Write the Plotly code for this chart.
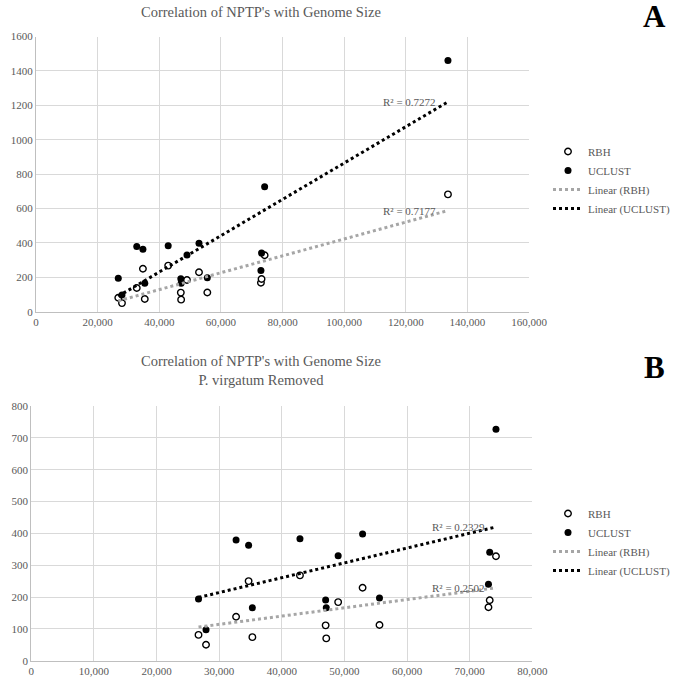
import numpy as np
import plotly.graph_objects as go

# ---- data ----
genome_size_b = [26700, 27900, 32700, 34700, 35300, 42900, 47000, 47100, 49000, 52900, 55600, 73000, 73200, 74200]
rbh_b         = [81,    50,    138,   250,   74,    268,   111,   70,    184,   229,   112,   168,   190,   328]
uclust_b      = [194,   97,    379,   363,   166,   383,   191,   166,   330,   398,   197,   240,   341,   727]

# P. virgatum (only in panel A)
pvirg_size = [133700]
pvirg_rbh = [682]
pvirg_uclust = [1460]

genome_size_a = genome_size_b + pvirg_size
rbh_a = rbh_b + pvirg_rbh
uclust_a = uclust_b + pvirg_uclust

r2_labels_a = ["R² = 0.7177", "R² = 0.7272"]
r2_labels_b = ["R² = 0.2502", "R² = 0.2329"]

FONT = "Liberation Serif"
GREY = "#595959"
GRID = "#d9d9d9"

W, H = 685, 682


def fit(x, y):
    x = np.asarray(x, float)
    y = np.asarray(y, float)
    m, b = np.polyfit(x, y, 1)
    xs = np.array([x.min(), x.max()])
    return xs, m * xs + b


fig = go.Figure()


def add_panel(xs, rbh, ucl, xa, ya, legend):
    fig.add_trace(go.Scatter(x=xs, y=rbh, mode="markers", name="RBH",
                             marker=dict(symbol="circle", size=6.5, color="white",
                                         line=dict(color="black", width=1.4)),
                             xaxis=xa, yaxis=ya, legend=legend))
    fig.add_trace(go.Scatter(x=xs, y=ucl, mode="markers", name="UCLUST",
                             marker=dict(symbol="circle", size=7, color="black"),
                             xaxis=xa, yaxis=ya, legend=legend))
    tx, ty = fit(xs, rbh)
    fig.add_trace(go.Scatter(x=tx, y=ty, mode="lines", name="Linear (RBH)",
                             line=dict(color="#a6a6a6", width=3, dash="dot"),
                             xaxis=xa, yaxis=ya, legend=legend))
    tx, ty = fit(xs, ucl)
    fig.add_trace(go.Scatter(x=tx, y=ty, mode="lines", name="Linear (UCLUST)",
                             line=dict(color="black", width=3, dash="dot"),
                             xaxis=xa, yaxis=ya, legend=legend))


add_panel(genome_size_a, rbh_a, uclust_a, "x", "y", "legend")
add_panel(genome_size_b, rbh_b, uclust_b, "x2", "y2", "legend2")

axis_common = dict(showgrid=True, gridcolor=GRID, gridwidth=1, zeroline=False,
                   showline=True, linecolor="#bfbfbf", linewidth=1,
                   ticks="", tickfont=dict(family=FONT, size=11, color=GREY),
                   automargin=False)

fig.update_layout(
    width=W, height=H,
    margin=dict(l=0, r=0, t=0, b=0),
    paper_bgcolor="white", plot_bgcolor="white",
    font=dict(family=FONT, color=GREY),
    xaxis=dict(domain=[36 / W, 529 / W], range=[0, 160000], dtick=20000,
               tickformat=",d", anchor="y", **axis_common),
    yaxis=dict(domain=[1 - 311.7 / H, 1 - 36.5 / H], range=[0, 1600], dtick=200,
               anchor="x", **axis_common),
    xaxis2=dict(domain=[31.3 / W, 532.3 / W], range=[0, 80000], dtick=10000,
                tickformat=",d", anchor="y2", **axis_common),
    yaxis2=dict(domain=[1 - 660.7 / H, 1 - 406 / H], range=[0, 800], dtick=100,
                anchor="x2", **axis_common),
    legend=dict(x=548 / W, y=1 - 137 / H, xanchor="left", yanchor="top",
                font=dict(family=FONT, size=11, color=GREY),
                bgcolor="rgba(0,0,0,0)", tracegroupgap=0),
    legend2=dict(x=548 / W, y=1 - 499 / H, xanchor="left", yanchor="top",
                 font=dict(family=FONT, size=11, color=GREY),
                 bgcolor="rgba(0,0,0,0)", tracegroupgap=0),
    showlegend=True,
)

annotations = [
    dict(text="Correlation of NPTP's with Genome Size", x=261 / W, y=1 - 12 / H,
         xref="paper", yref="paper", showarrow=False, xanchor="center", yanchor="middle",
         font=dict(family=FONT, size=14.5, color=GREY)),
    dict(text="Correlation of NPTP's with Genome Size<br>P. virgatum Removed", x=261 / W,
         y=1 - 370.5 / H, xref="paper", yref="paper", showarrow=False, xanchor="center",
         yanchor="middle", font=dict(family=FONT, size=14.5, color=GREY)),
    dict(text="<b>A</b>", x=654 / W, y=1 - 17 / H, xref="paper", yref="paper",
         showarrow=False, xanchor="center", yanchor="middle",
         font=dict(family=FONT, size=31, color="black")),
    dict(text="<b>B</b>", x=654 / W, y=1 - 367 / H, xref="paper", yref="paper",
         showarrow=False, xanchor="center", yanchor="middle",
         font=dict(family=FONT, size=31, color="black")),
    dict(text=r2_labels_a[1], x=130500, y=1219, xref="x", yref="y", showarrow=False,
         xanchor="right", yanchor="middle", font=dict(family=FONT, size=11, color=GREY)),
    dict(text=r2_labels_a[0], x=130500, y=584, xref="x", yref="y", showarrow=False,
         xanchor="right", yanchor="middle", font=dict(family=FONT, size=11, color=GREY)),
    dict(text=r2_labels_b[1], x=72700, y=420, xref="x2", yref="y2", showarrow=False,
         xanchor="right", yanchor="middle", font=dict(family=FONT, size=11, color=GREY)),
    dict(text=r2_labels_b[0], x=72700, y=229, xref="x2", yref="y2", showarrow=False,
         xanchor="right", yanchor="middle", font=dict(family=FONT, size=11, color=GREY)),
]
fig.update_layout(annotations=annotations)

fig.write_html("out.html", config={"displayModeBar": False},
               post_script="document.body.style.margin='0';")
